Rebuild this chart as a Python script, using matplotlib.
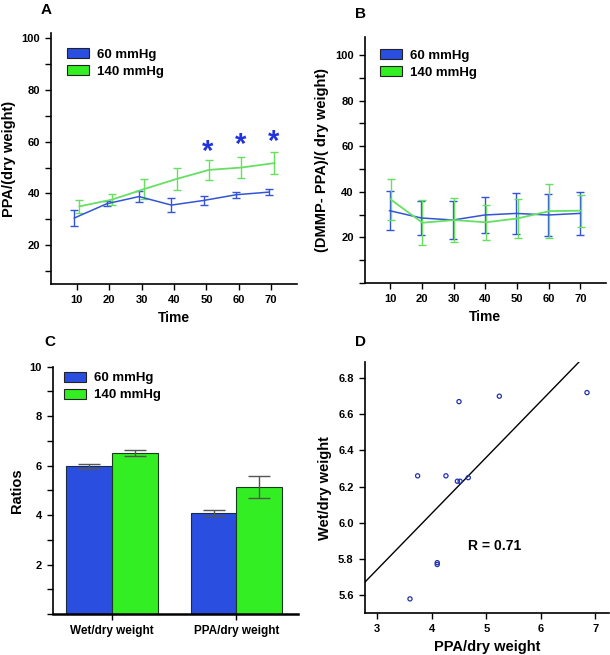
import numpy as np
import matplotlib
matplotlib.use('Agg')
import matplotlib.pyplot as plt
from matplotlib.patches import Patch
from matplotlib.ticker import MultipleLocator

plt.rcParams['font.family'] = ['Liberation Sans', 'DejaVu Sans']
plt.rcParams['font.weight'] = 'bold'

# panel A
time = [10, 20, 30, 40, 50, 60, 70]
ppa_60 = [30.5, 36.0, 38.8, 35.5, 37.3, 39.5, 40.5]
ppa_60_err = [3.2, 1.0, 2.2, 2.8, 1.8, 1.1, 1.2]
ppa_140 = [35.0, 37.6, 41.7, 45.6, 49.1, 50.0, 51.7]
ppa_140_err = [2.6, 2.1, 4.0, 4.2, 3.8, 4.2, 4.3]
star_time = [50.3, 60.7, 70.6]
star_y = [58.7, 61.3, 62.6]

# panel B
dmmp_60 = [31.7, 28.5, 27.6, 29.8, 30.5, 29.8, 30.5]
dmmp_60_err = [8.5, 7.3, 8.2, 8.0, 9.0, 9.0, 9.3]
dmmp_140 = [36.6, 26.4, 27.6, 26.6, 28.3, 31.5, 31.7]
dmmp_140_err = [9.1, 9.8, 9.7, 7.8, 8.6, 11.8, 7.0]

# panel C
ratio_cats = ['Wet/dry weight', 'PPA/dry weight']
ratio_60 = [5.97, 4.07]
ratio_60_err = [0.11, 0.12]
ratio_140 = [6.50, 5.14]
ratio_140_err = [0.12, 0.45]

# panel D
ppa_dry = [6.85, 5.24, 4.50, 3.74, 4.26, 4.47, 4.52, 4.67, 4.10, 4.10, 3.60]
wet_dry = [6.72, 6.70, 6.67, 6.26, 6.26, 6.23, 6.23, 6.25, 5.78, 5.77, 5.58]

blue = '#2a4fe0'
green = '#33ee22'
blue_line = '#3355d5'
green_line = '#66e060'
labels = ['60 mmHg', '140 mmHg']

fig = plt.figure(figsize=(6.1, 6.55), dpi=100)


def style_axes(ax):
    ax.spines['top'].set_visible(False)
    ax.spines['right'].set_visible(False)
    ax.spines['left'].set_linewidth(1.2)
    ax.spines['bottom'].set_linewidth(1.2)
    ax.tick_params(labelsize=8, width=1, length=4, pad=4)
    ax.tick_params(which='minor', width=1, length=4)
    for t in ax.get_xticklabels() + ax.get_yticklabels():
        t.set_fontweight('bold')


def add_legend(ax, loc_xy):
    handles = [Patch(facecolor=blue, edgecolor='#222222', linewidth=0.8),
               Patch(facecolor=green, edgecolor='#222222', linewidth=0.8)]
    ax.legend(handles, labels, loc='upper left', bbox_to_anchor=loc_xy,
              frameon=False, prop={'size': 9.5, 'weight': 'bold'},
              handlelength=1.7, handleheight=0.8, handletextpad=0.6,
              labelspacing=0.35, borderaxespad=0, borderpad=0)


def time_panel(ax, y60, e60, y140, e140, shift, ylim, ylabel):
    x60 = np.array(time) - shift
    x140 = np.array(time) + shift
    ax.errorbar(x60, y60, yerr=e60, color=blue_line, lw=1.1, capsize=3,
                elinewidth=1, capthick=1)
    ax.errorbar(x140, y140, yerr=e140, color=green_line, lw=1.3, capsize=3,
                elinewidth=1, capthick=1)
    ax.set_xlim(2, 78)
    ax.set_ylim(*ylim)
    ax.set_xticks(time)
    ax.yaxis.set_major_locator(MultipleLocator(20))
    ax.yaxis.set_minor_locator(MultipleLocator(10))
    ax.set_yticks([20, 40, 60, 80, 100])
    ax.set_xlabel('Time', fontsize=10, fontweight='bold')
    ax.set_ylabel(ylabel, fontsize=10.5, fontweight='bold')
    style_axes(ax)


# A
axA = fig.add_axes([0.0836, 0.5664, 0.4033, 0.3832])
time_panel(axA, ppa_60, ppa_60_err, ppa_140, ppa_140_err, 0.8, (5, 102),
           'PPA/(dry weight)')
for sx, sy in zip(star_time, star_y):
    axA.annotate('*', (sx, sy), xytext=(0, -5), textcoords='offset points',
                 fontsize=21, fontweight='bold', color='#2233dd',
                 ha='center', va='center')
add_legend(axA, (0.065, 0.94))

# B
axB = fig.add_axes([0.598, 0.568, 0.395, 0.376])
time_panel(axB, dmmp_60, dmmp_60_err, dmmp_140, dmmp_140_err, 0.2, (0, 108),
           '(DMMP- PPA)/( dry weight)')
add_legend(axB, (0.062, 0.95))

# C
axC = fig.add_axes([0.0869, 0.0626, 0.401, 0.3776])
xc = np.arange(len(ratio_cats))
w = 0.368
axC.bar(xc - w / 2, ratio_60, w, color=blue, edgecolor='#1a2a40', lw=0.8)
axC.bar(xc + w / 2, ratio_140, w, color=green, edgecolor='#1a3a20', lw=0.8)
axC.errorbar(xc - w / 2, ratio_60, yerr=ratio_60_err, fmt='none',
             ecolor='#555555', capsize=8, elinewidth=1, capthick=1)
axC.errorbar(xc + w / 2, ratio_140, yerr=ratio_140_err, fmt='none',
             ecolor='#555555', capsize=8, elinewidth=1, capthick=1)
axC.set_xlim(-0.47, 1.49)
axC.set_ylim(0, 10)
axC.set_xticks(xc)
axC.set_xticklabels(ratio_cats)
axC.yaxis.set_major_locator(MultipleLocator(2))
axC.yaxis.set_minor_locator(MultipleLocator(1))
axC.set_yticks([2, 4, 6, 8, 10])
axC.set_ylabel('Ratios', fontsize=10.5, fontweight='bold')
style_axes(axC)
axC.tick_params(axis='x', labelsize=8.5)
axC.spines['bottom'].set_linewidth(1.8)
add_legend(axC, (0.045, 0.98))

# D
axD = fig.add_axes([0.598, 0.0636, 0.4, 0.384])
axD.scatter(ppa_dry, wet_dry, s=9, facecolors='none', edgecolors='#2233aa',
            linewidths=0.9, zorder=3)
slope, icpt = np.polyfit(ppa_dry, wet_dry, 1)
r = np.corrcoef(ppa_dry, wet_dry)[0, 1]
xl = np.array([2.77, 7.25])
axD.plot(xl, slope * xl + icpt, color='black', lw=1)
axD.text(4.67, 5.85, 'R = %.2f' % r, fontsize=10, fontweight='bold')
axD.set_xlim(2.77, 7.25)
axD.set_ylim(5.5, 6.89)
axD.set_xticks([3, 4, 5, 6, 7])
axD.set_yticks([5.6, 5.8, 6.0, 6.2, 6.4, 6.6, 6.8])
axD.set_yticklabels(['%.1f' % v for v in [5.6, 5.8, 6.0, 6.2, 6.4, 6.6, 6.8]])
axD.set_xlabel('PPA/dry weight', fontsize=10.5, fontweight='bold')
axD.set_ylabel('Wet/dry weight', fontsize=10.5, fontweight='bold')
style_axes(axD)

# panel letters
fig.text(0.066, 0.995, 'A', fontsize=11, fontweight='bold', va='top')
fig.text(0.582, 0.99, 'B', fontsize=11, fontweight='bold', va='top')
fig.text(0.072, 0.488, 'C', fontsize=11, fontweight='bold', va='top')
fig.text(0.582, 0.489, 'D', fontsize=11, fontweight='bold', va='top')

fig.savefig('out.png', dpi=100)
